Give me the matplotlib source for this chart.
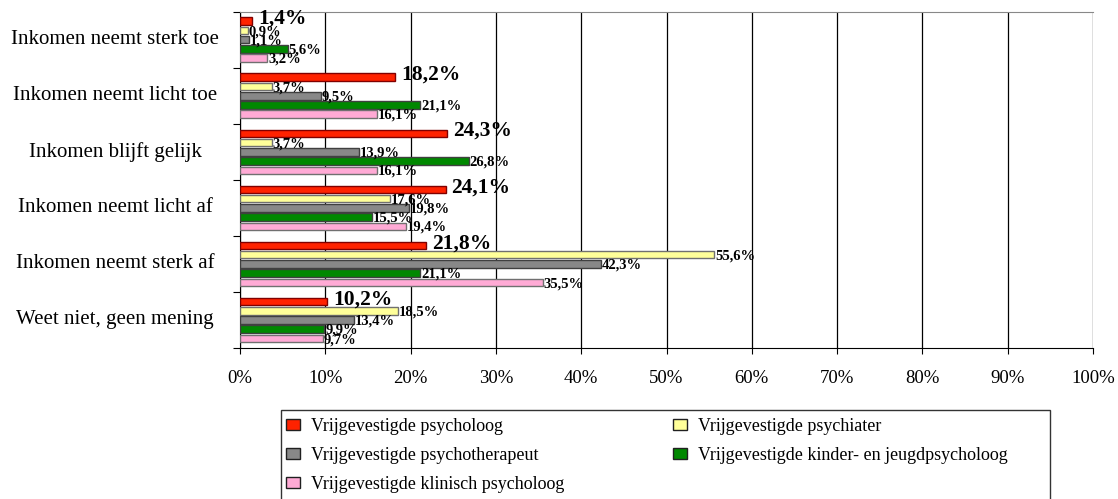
import numpy as np
import matplotlib
matplotlib.use("Agg")
import matplotlib.pyplot as plt
from matplotlib.patches import Rectangle

plt.rcParams['font.family'] = ['Liberation Serif', 'DejaVu Serif']

categories = ["Inkomen neemt sterk toe", "Inkomen neemt licht toe", "Inkomen blijft gelijk",
              "Inkomen neemt licht af", "Inkomen neemt sterk af", "Weet niet, geen mening"]
series = ["Vrijgevestigde psycholoog", "Vrijgevestigde psychiater",
          "Vrijgevestigde psychotherapeut", "Vrijgevestigde kinder- en jeugdpsycholoog",
          "Vrijgevestigde klinisch psycholoog"]
psycholoog = [1.4, 18.2, 24.3, 24.1, 21.8, 10.2]
psychiater = [0.9, 3.7, 3.7, 17.6, 55.6, 18.5]
psychotherapeut = [1.1, 9.5, 13.9, 19.8, 42.3, 13.4]
kinder_jeugd = [5.6, 21.1, 26.8, 15.5, 21.1, 9.9]
klinisch = [3.2, 16.1, 16.1, 19.4, 35.5, 9.7]
xticks = [0, 10, 20, 30, 40, 50, 60, 70, 80, 90, 100]

values = [psycholoog, psychiater, psychotherapeut, kinder_jeugd, klinisch]
colors = ["#FF2200", "#FFFF99", "#888888", "#008800", "#FFAAD5"]
edges = ["#800000", "#707070", "#404040", "#404040", "#707070"]

W, H = 1118, 499
fig = plt.figure(figsize=(W / 100, H / 100), dpi=100)
ax = fig.add_axes([0.2147, 0.3026, 0.763, 0.674])

n = len(categories)
step = 0.165
h = 0.135
for i, vals in enumerate(values):
    y = np.arange(n) + (i - 2) * step
    ax.barh(y, vals, height=h, color=colors[i], edgecolor=edges[i], linewidth=1, zorder=3)
    for yy, v in zip(y, vals):
        lbl = f"{v:.1f}%".replace(".", ",")
        if i == 0:
            ax.text(v + 0.7, yy - 0.04, lbl, fontsize=15.5, fontweight='bold', va='center', ha='left', zorder=4)
        else:
            ax.text(v + 0.1, yy + 0.02, lbl, fontsize=10.5, fontweight='bold', va='center', ha='left', zorder=4)

ax.set_xlim(0, 100)
ax.set_ylim(n - 0.5, -0.5)
ax.set_xticks(xticks)
ax.set_xticklabels([f"{t}%" for t in xticks], fontsize=13.5)
ax.tick_params(axis='x', length=4, direction='out', pad=12)
ax.xaxis.grid(True, color='black', linewidth=0.9, zorder=0)

ax.set_yticks(np.arange(n + 1) - 0.5)
ax.set_yticklabels([])
ax.tick_params(axis='y', length=5, direction='out', color='black')
for j, c in enumerate(categories):
    ax.text(-0.1466, j, c, transform=ax.get_yaxis_transform(), fontsize=15, ha='center', va='center')

ax.spines['top'].set_color('#888888')
ax.spines['right'].set_visible(False)
ax.spines['left'].set_color('black')
ax.spines['bottom'].set_color('black')

# legend frame, runs off the bottom edge like the original
fig.patches.append(Rectangle((281 / W, -0.05), (1050 - 281) / W, 0.05 + (H - 410) / H,
                             transform=fig.transFigure, facecolor='white',
                             edgecolor='#333333', linewidth=1))

def add_legend(idx, x_px):
    hs = [Rectangle((0, 0), 1, 1, facecolor=colors[i], edgecolor='#202020') for i in idx]
    fig.legend(hs, [series[i] for i in idx], loc='upper left',
               bbox_to_anchor=(x_px / W, 1 - 418 / H), fontsize=13, frameon=False,
               handlelength=0.8, handleheight=0.5, handletextpad=0.6,
               borderaxespad=0, borderpad=0, labelspacing=0.66)

add_legend([0, 2, 4], 286)
add_legend([1, 3], 673)

fig.savefig("out.png", dpi=100)
